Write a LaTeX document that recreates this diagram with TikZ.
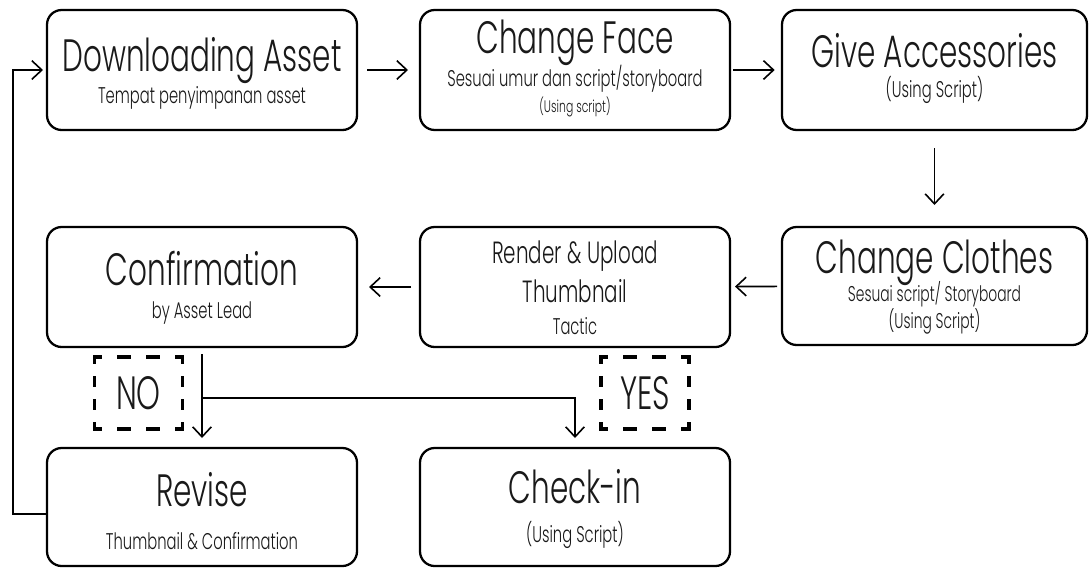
\documentclass[tikz,border=0pt]{standalone}
\usepackage{fontspec}
\setmainfont{Poppins Light}[FakeStretch=0.65]
\usetikzlibrary{arrows.meta}
\begin{document}
\begin{tikzpicture}[x=0.75pt,y=-0.75pt,
  box/.style={draw=black, line width=1.7pt, rounded corners=11pt, minimum width=232.5pt, minimum height=90pt, inner sep=0pt, outer sep=0pt},
  ttl/.style={font=\fontsize{34}{34}\selectfont, anchor=base, inner sep=0pt, text=black!90},
  mid/.style={font=\fontsize{23}{23}\selectfont, anchor=base, inner sep=0pt, text=black!90},
  sub/.style={font=\fontsize{17}{17}\selectfont, anchor=base, inner sep=0pt, text=black!90},
  tiny/.style={font=\fontsize{12.5}{12.5}\selectfont, anchor=base, inner sep=0pt, text=black!90},
  arr/.style={line width=1.2pt, -{Straight Barb[length=7.5pt,width=14pt]}},
  tag/.style={minimum width=66pt, minimum height=54pt, inner sep=0pt, outer sep=0pt, font=\fontsize{35}{35}\selectfont, text=black!90},
  dh/.style={line width=2.6pt, line cap=rect, dash pattern=on 7.9pt off 13.85pt, dash phase=3.95pt},
  dv/.style={line width=2.6pt, line cap=rect, dash pattern=on 5.65pt off 11.6pt, dash phase=1.7pt}
]
\useasboundingbox (0,0) rectangle (1089,568);

% boxes
\node[box] (dl) at (202,70) {};
\node[box] (cf) at (575,70) {};
\node[box, minimum width=228.75pt] (ga) at (934.5,70) {};
\node[box, minimum width=228.75pt, minimum height=88.5pt] (cc) at (934.5,286) {};
\node[box] (rd) at (575,287) {};
\node[box] (cn) at (202,287) {};
\node[box, minimum height=88.5pt] (rv) at (202,507) {};
\node[box, minimum height=88.5pt] (ci) at (575,507) {};

% texts
\node[ttl] (dlt) at (202,71) {Downloading Asset};
\node[sub] (dls) at (202,103) {Tempat penyimpanan asset};
\node[ttl] (cft) at (575,53) {Change Face};
\node[sub] (cfs) at (575,86) {Sesuai umur dan script/storyboard};
\node[tiny] (cfu) at (575,112) {(Using script)};
\node[ttl] (gat) at (934.5,67) {Give Accessories};
\node[sub] (gau) at (934.5,97) {(Using Script)};
\node[ttl] (cct) at (934.5,273) {Change Clothes};
\node[sub, font=\fontsize{16}{16}\selectfont] (ccs) at (934.5,301) {Sesuai script/ Storyboard};
\node[sub, font=\fontsize{16}{16}\selectfont] (ccu) at (934.5,328) {(Using Script)};
\node[mid] (rdt) at (575,263) {Render \& Upload};
\node[mid] (rdm) at (575,302) {Thumbnail};
\node[sub] (rds) at (575,334) {Tactic};
\node[ttl] (cnt) at (202,285) {Confirmation};
\node[sub] (cns) at (202,318) {by Asset Lead};
\node[ttl] (rvt) at (202,506) {Revise};
\node[sub] (rvs) at (202,549) {Thumbnail \& Confirmation};
\node[ttl] (cit) at (575,503) {Check-in};
\node[sub] (cis) at (575,542) {(Using Script)};

% NO / YES tags
\node[tag] (no) at (138.5,393) {NO};
\node[tag] (yes) at (645,393) {YES};
\foreach \t in {no,yes}{
  \draw[dh] (\t.north west) -- (\t.north east);
  \draw[dh] (\t.south west) -- (\t.south east);
  \draw[dv] (\t.north west) -- (\t.south west);
  \draw[dv] (\t.north east) -- (\t.south east);
}

% connectors
\draw[arr, shorten <=7.5pt, shorten >=9pt] (dl) -- (cf);
\draw[arr, shorten <=2.5pt, shorten >=5.5pt] (cf) -- (ga);
\draw[arr, shorten <=13.5pt, shorten >=16.5pt] (ga) -- (cc);
\draw[arr, shorten <=3.75pt, shorten >=3.75pt] (cc) -- (rd);
\draw[arr, shorten <=6.75pt, shorten >=9pt] (rd) -- (cn);
\draw[arr, shorten <=5.25pt, shorten >=7.5pt] (cn) -- (rv);
\path (cn.south) ++(0,51) coordinate (br);
\draw[arr, shorten >=7.5pt] (br) -| (ci.north);
\draw[arr, shorten >=3pt] ([yshift=-5.25pt]rv.west) -- ++(-34,0) |- (dl.west);
\end{tikzpicture}
\end{document}
